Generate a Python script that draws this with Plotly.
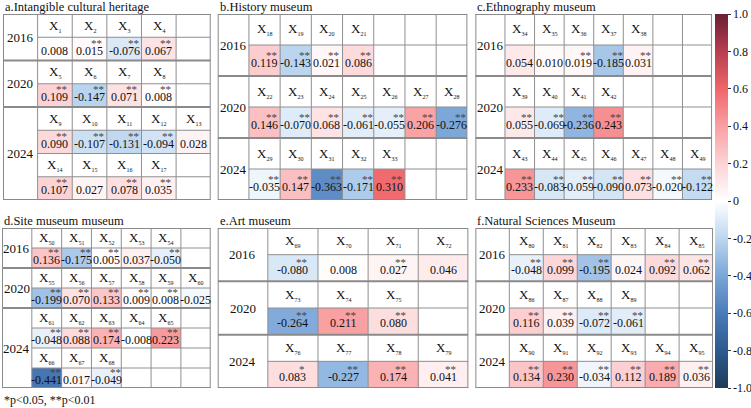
import plotly.graph_objects as go

W, H = 751, 408
FONT = "Liberation Serif"

# ---------------- data ----------------
A_TITLE = "a.Intangible cultural heritage"
A_YEARS = ["2016", "2020", "2024", "2024"]
A_IDS = [[1, 2, 3, 4], [5, 6, 7, 8], [9, 10, 11, 12, 13], [14, 15, 16, 17]]
A_VALUES = [[0.008, 0.015, -0.076, 0.067], [0.109, -0.147, 0.071, 0.008],
            [0.090, -0.107, -0.131, -0.094, 0.028], [0.107, 0.027, 0.078, 0.035]]
A_STARS = [["", "**", "**", "**"], ["**", "**", "**", "**"],
           ["**", "**", "**", "**", ""], ["**", "", "**", "**"]]

B_TITLE = "b.History museum"
B_YEARS = ["2016", "2020", "2024"]
B_IDS = [[18, 19, 20, 21], [22, 23, 24, 25, 26, 27, 28], [29, 30, 31, 32, 33]]
B_VALUES = [[0.119, -0.143, 0.021, 0.086],
            [0.146, -0.070, 0.068, -0.061, -0.055, 0.206, -0.276],
            [-0.035, 0.147, -0.363, -0.171, 0.310]]
B_STARS = [["**"] * 4, ["**"] * 7, ["**"] * 5]

C_TITLE = "c.Ethnography museum"
C_YEARS = ["2016", "2020", "2024"]
C_IDS = [[34, 35, 36, 37, 38], [39, 40, 41, 42], [43, 44, 45, 46, 47, 48, 49]]
C_VALUES = [[0.054, 0.010, 0.019, -0.185, 0.031],
            [0.055, -0.069, -0.236, 0.243],
            [0.233, -0.083, -0.059, -0.090, 0.073, -0.020, -0.122]]
C_STARS = [["", "", "**", "**", "**"], ["**"] * 4, ["**"] * 7]

D_TITLE = "d.Site museum museum"
D_YEARS = ["2016", "2020", "2024", "2024"]
D_IDS = [[50, 51, 52, 53, 54], [55, 56, 57, 58, 59, 60], [61, 62, 63, 64, 65], [66, 67, 68]]
D_VALUES = [[0.136, -0.175, 0.005, 0.037, -0.050],
            [-0.199, 0.070, 0.133, 0.009, 0.008, -0.025],
            [-0.048, 0.088, 0.174, -0.008, 0.223],
            [-0.441, 0.017, -0.049]]
D_STARS = [["**", "**", "**", "", "**"], ["**", "**", "**", "**", "**", ""],
           ["**", "**", "**", "", "**"], ["**", "", "**"]]

E_TITLE = "e.Art museum"
E_YEARS = ["2016", "2020", "2024"]
E_IDS = [[69, 70, 71, 72], [73, 74, 75], [76, 77, 78, 79]]
E_VALUES = [[-0.080, 0.008, 0.027, 0.046], [-0.264, 0.211, 0.080],
            [0.083, -0.227, 0.174, 0.041]]
E_STARS = [["**", "", "**", ""], ["**", "**", "**"], ["*", "**", "**", "**"]]

F_TITLE = "f.Natural Sciences Museum"
F_YEARS = ["2016", "2020", "2024"]
F_IDS = [[80, 81, 82, 83, 84, 85], [86, 87, 88, 89], [90, 91, 92, 93, 94, 95]]
F_VALUES = [[-0.048, 0.099, -0.195, 0.024, 0.092, 0.062],
            [0.116, 0.039, -0.072, -0.061],
            [0.134, 0.230, -0.034, 0.112, 0.189, 0.036]]
F_STARS = [["**", "**", "**", "", "**", "**"], ["**"] * 4, ["**"] * 6]

FOOTNOTE = "*p&lt;0.05, **p&lt;0.01"
CBAR_TICKS = [1.0, 0.8, 0.6, 0.4, 0.2, 0, -0.2, -0.4, -0.6, -0.8, -1.0]

# ---------------- style ----------------
COLORSCALE = [
    [0.0, "#1f3a5c"], [0.1, "#2d5a8e"], [0.2, "#4a7cb8"], [0.3, "#7aa6d8"],
    [0.4, "#bcd6f0"], [0.5, "#ffffff"], [0.6, "#fcd3d5"], [0.7, "#f9a0a2"],
    [0.8, "#f0666a"], [0.9, "#b63e50"], [1.0, "#6a1f36"],
]
NEG_LIM, POS_LIM = 0.7, 0.53
CELL_SCALE = []
for q, col in COLORSCALE:
    c = 2 * q - 1
    v = c * NEG_LIM if c <= 0 else c * POS_LIM
    CELL_SCALE.append([(v + NEG_LIM) / (NEG_LIM + POS_LIM), col])
CELL_SCALE[0][0] = 0.0
CELL_SCALE[-1][0] = 1.0

PANELS = [
    # title, years, ids, values, stars, ncols, (x0,x1), (y0,y1) in px
    (A_TITLE, A_YEARS, A_IDS, A_VALUES, A_STARS, 5, (3, 211), (14, 200)),
    (B_TITLE, B_YEARS, B_IDS, B_VALUES, B_STARS, 7, (218, 468), (14, 200)),
    (C_TITLE, C_YEARS, C_IDS, C_VALUES, C_STARS, 7, (476, 713), (14, 200)),
    (D_TITLE, D_YEARS, D_IDS, D_VALUES, D_STARS, 6, (2, 211), (228, 388)),
    (E_TITLE, E_YEARS, E_IDS, E_VALUES, E_STARS, 4, (218, 469), (228, 388)),
    (F_TITLE, F_YEARS, F_IDS, F_VALUES, F_STARS, 6, (476, 714), (228, 388)),
]

fig = go.Figure()
shapes = []
annots = []
layout_axes = {}

INNER = dict(color="#8f8f8f", width=1)
OUTER = dict(color="#8a8a8a", width=2)


def text_width(s, size=12):
    w = 0
    for ch in s:
        if ch.isdigit():
            w += 0.5
        elif ch == ".":
            w += 0.25
        elif ch == "-":
            w += 0.333
        else:
            w += 0.5
    return w * size


for k, (title, years, ids, values, stars, ncols, (px0, px1), (py0, py1)) in enumerate(PANELS):
    n = k + 1
    xa = "x" if n == 1 else f"x{n}"
    ya = "y" if n == 1 else f"y{n}"
    nrows = 2 * len(ids)
    layout_axes["xaxis" if n == 1 else f"xaxis{n}"] = dict(
        domain=[px0 / W, px1 / W], range=[-1, ncols], visible=False,
        fixedrange=True, anchor=ya)
    layout_axes["yaxis" if n == 1 else f"yaxis{n}"] = dict(
        domain=[1 - py1 / H, 1 - py0 / H], range=[nrows, 0], visible=False,
        fixedrange=True, anchor=xa)

    z = [[None] * ncols for _ in range(nrows)]
    for r, row in enumerate(values):
        for j, v in enumerate(row):
            z[2 * r + 1][j] = v
    fig.add_trace(go.Heatmap(
        z=z, x=[j + 0.5 for j in range(ncols)], y=[i + 0.5 for i in range(nrows)],
        colorscale=CELL_SCALE, zmin=-NEG_LIM, zmax=POS_LIM, showscale=False,
        hoverinfo="skip", xaxis=xa, yaxis=ya))

    # group boundaries
    bounds = [0]
    for r in range(1, len(years)):
        if years[r] != years[r - 1]:
            bounds.append(2 * r)
    bounds.append(nrows)

    # year labels
    for gi in range(len(bounds) - 1):
        annots.append(dict(x=-0.5, y=(bounds[gi] + bounds[gi + 1]) / 2, xref=xa, yref=ya,
                           text=years[bounds[gi] // 2], showarrow=False,
                           font=dict(family=FONT, size=13, color="#111")))

    # grid lines
    for xv in range(-1, ncols + 1):
        ln = OUTER if xv in (-1, ncols) else INNER
        shapes.append(dict(type="line", xref=xa, yref=ya, x0=xv, x1=xv, y0=0, y1=nrows, line=ln))
    for yv in range(0, nrows + 1):
        if yv in bounds:
            shapes.append(dict(type="line", xref=xa, yref=ya, x0=-1, x1=ncols, y0=yv, y1=yv, line=OUTER))
        else:
            shapes.append(dict(type="line", xref=xa, yref=ya, x0=0, x1=ncols, y0=yv, y1=yv, line=INNER))

    # cell texts
    for r, row in enumerate(ids):
        for j, idn in enumerate(row):
            annots.append(dict(
                x=j + 0.5, y=2 * r + 0.5, xref=xa, yref=ya, showarrow=False,
                text=f"X<sub><span style='font-size:6px'>{idn}</span></sub>",
                font=dict(family=FONT, size=13, color="#111")))
            v = values[r][j]
            s = f"{v:.3f}"
            annots.append(dict(
                x=j + 0.5, y=2 * r + 1.5, xref=xa, yref=ya, showarrow=False,
                text=s, yshift=-2, font=dict(family=FONT, size=12, color="#111")))
            st = stars[r][j]
            if st:
                annots.append(dict(
                    x=j + 0.5, y=2 * r + 1.5, xref=xa, yref=ya, showarrow=False,
                    text=st, xanchor="right", xshift=text_width(s) / 2 + 1, yshift=6,
                    font=dict(family=FONT, size=11, color="#444")))

    # panel title
    annots.append(dict(x=px0 / W, y=1 - (py0 - 7) / H, xref="paper", yref="paper",
                       xanchor="left", yanchor="middle", showarrow=False, text=title,
                       font=dict(family=FONT, size=12.5, color="#111")))

annots.append(dict(x=2 / W, y=1 - 400 / H, xref="paper", yref="paper", xanchor="left",
                   yanchor="middle", showarrow=False, text=FOOTNOTE,
                   font=dict(family=FONT, size=12, color="#111")))

# colorbar holder (invisible marker)
fig.add_trace(go.Scatter(
    x=[-0.5, -0.5], y=[0.5, 0.5], xaxis="x", yaxis="y", mode="markers", hoverinfo="skip",
    marker=dict(color=[-1, 1], cmin=-1, cmax=1, colorscale=COLORSCALE, opacity=0, size=1,
                showscale=True,
                colorbar=dict(x=715 / W, xanchor="left", xpad=0, y=1 - 14 / H, yanchor="top",
                              ypad=0, len=(388 - 14) / H, lenmode="fraction", thickness=13,
                              outlinewidth=0, ticks="outside", ticklen=3, tickwidth=1,
                              tickcolor="#333", tickvals=CBAR_TICKS,
                              ticktext=[("%.1f" % t) if t != 0 else "0" for t in CBAR_TICKS],
                              tickfont=dict(family=FONT, size=12, color="#111"))),
    showlegend=False))

fig.update_layout(
    width=W, height=H, margin=dict(l=0, r=0, t=0, b=0),
    paper_bgcolor="white", plot_bgcolor="white", showlegend=False,
    font=dict(family=FONT),
    shapes=shapes, annotations=annots, **layout_axes)

fig.write_html("out.html")
